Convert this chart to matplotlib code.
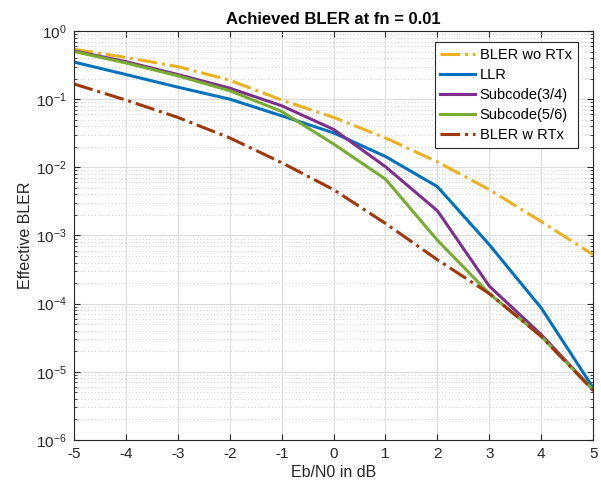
import matplotlib
matplotlib.use("Agg")
import matplotlib.pyplot as plt
from matplotlib.ticker import NullFormatter
import numpy as np

plt.rcParams['font.family'] = ['Liberation Sans', 'DejaVu Sans']

ebn0 = np.arange(-5, 6)
bler_wo_rtx = [0.54, 0.41, 0.30, 0.19, 0.097, 0.054, 0.027, 0.012, 0.0047, 0.0016, 0.00052]
llr = [0.35, 0.23, 0.15, 0.10, 0.057, 0.032, 0.0144, 0.0052, 7.3e-4, 8.6e-5, 5.8e-6]
sub34 = [0.51, 0.355, 0.23, 0.145, 0.08, 0.036, 0.0102, 0.0023, 1.8e-4, 3.5e-5, 5.4e-6]
sub56 = [0.50, 0.34, 0.22, 0.133, 0.066, 0.022, 0.0067, 8.5e-4, 1.4e-4, 3.3e-5, 5.4e-6]
bler_w_rtx = [0.167, 0.097, 0.054, 0.027, 0.0117, 0.0047, 0.0015, 4.4e-4, 1.4e-4, 3.3e-5, 5.3e-6]

fig = plt.figure(figsize=(6.01, 4.92), dpi=100)
ax = fig.add_axes([0.123, 0.106, 0.864, 0.831])

lw = 2.2
ax.semilogy(ebn0, bler_wo_rtx, linestyle='-.', color='#EDB120', linewidth=lw, label='BLER wo RTx')
ax.semilogy(ebn0, llr, linestyle='-', color='#0072BD', linewidth=lw, label='LLR')
ax.semilogy(ebn0, sub34, linestyle='-', color='#7E2F8E', linewidth=lw, label='Subcode(3/4)')
ax.semilogy(ebn0, sub56, linestyle='-', color='#77AC30', linewidth=lw, label='Subcode(5/6)')
ax.semilogy(ebn0, bler_w_rtx, linestyle='-.', color='#A0370A', linewidth=lw, label='BLER w RTx')

ax.set_xlim(-5, 5)
ax.set_ylim(1e-6, 1)
ax.set_xticks(ebn0)
ax.set_xticklabels([str(v) for v in ebn0])
ax.yaxis.set_minor_formatter(NullFormatter())

ax.grid(True, which='major', color='#dcdcdc', linewidth=0.8)
ax.grid(True, which='minor', axis='y', color='#d0d0d0', linestyle=(0, (1, 2.5)), linewidth=0.7)
ax.set_axisbelow(True)

ax.tick_params(which='both', direction='in', top=True, right=True, labelsize=11, colors='#262626')
ax.tick_params(which='major', length=4, pad=5)
ax.tick_params(which='minor', length=2)
for s in ax.spines.values():
    s.set_color('#262626')
    s.set_linewidth(0.8)

ax.set_title('Achieved BLER at fn = 0.01', fontsize=12, fontweight='bold', pad=5)
ax.set_xlabel('Eb/N0 in dB', fontsize=11.5, color='#262626', labelpad=3)
ax.set_ylabel('Effective BLER', fontsize=11.5, color='#262626', labelpad=2)

leg = ax.legend(loc='upper right', fontsize=10.5, fancybox=False, framealpha=1,
                edgecolor='#262626', handlelength=2.4, borderpad=0.4, labelspacing=0.42,
                handletextpad=0.3, borderaxespad=0, bbox_to_anchor=(0.97, 0.973))
leg.get_frame().set_linewidth(0.8)

fig.savefig('out.png', dpi=100)
